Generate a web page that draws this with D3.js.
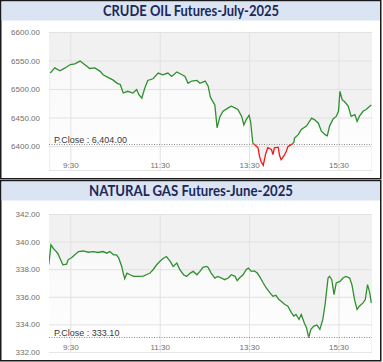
<!DOCTYPE html>
<html>
<head>
<meta charset="utf-8">
<script src="https://cdn.jsdelivr.net/npm/d3@7"></script>
<style>
  body { margin: 0; background: #fff; }
  svg { display: block; }
</style>
</head>
<body>
<div id="chart"></div>
<script>
// time labels on the x axis (same for both panels)
const timeTicks = ["9:30", "11:30", "13:30", "15:30"];

// crude oil panel
const oilTicks = [6400, 6450, 6500, 6550, 6600];
const oilClose = 6404;
const oilTimes = ["9:03","9:09","9:16","9:23","9:30","9:36","9:43","9:50","9:56","10:03","10:10","10:14","10:21","10:27","10:33","10:37","10:41","10:47","10:54","10:59","11:02","11:06","11:10","11:14","11:21","11:28","11:34","11:41","11:46","11:53","12:00","12:04","12:08","12:13","12:20","12:24","12:31","12:35","12:38","12:40","12:44","12:47","12:51","12:55","13:02","13:06","13:11","13:15","13:20","13:23","13:26","13:30","13:32","13:35","13:38","13:42","13:44","13:46","13:49","13:52","13:55","14:00","14:02","14:04","14:09","14:11","14:13","14:17","14:20","14:22","14:27","14:30","14:31","14:36","14:40","14:47","14:54","14:58","15:03","15:07","15:12","15:15","15:18","15:23","15:27","15:30","15:32","15:35","15:38","15:43","15:47","15:52","15:55","15:58","16:03","16:07","16:14"];
const oilValues = [6528,6537,6532,6537,6543,6544,6549,6542,6536,6537,6531,6525,6520,6516,6510,6508,6493,6496,6493,6499,6490,6484,6502,6515,6518,6528,6525,6528,6522,6530,6525,6522,6510,6514,6515,6510,6514,6505,6486,6481,6472,6432,6452,6461,6467,6470,6467,6464,6452,6437,6446,6454,6443,6405,6402,6397,6382,6373,6366,6385,6397,6394,6385,6397,6398,6383,6376,6383,6391,6399,6403,6406,6414,6420,6429,6435,6449,6446,6440,6426,6420,6418,6435,6448,6452,6461,6496,6481,6478,6470,6452,6455,6443,6452,6461,6464,6472];

// natural gas panel
const gasTicks = [332, 334, 336, 338, 340, 342];
const gasClose = 333.10;
const gasTimes = ["9:01","9:04","9:07","9:09","9:13","9:16","9:20","9:25","9:27","9:32","9:36","9:41","9:47","9:54","10:01","10:07","10:14","10:19","10:23","10:28","10:32","10:35","10:39","10:41","10:43","10:46","10:50","10:55","11:01","11:08","11:12","11:17","11:21","11:26","11:30","11:35","11:39","11:44","11:48","11:53","11:57","12:02","12:06","12:11","12:15","12:20","12:24","12:28","12:33","12:35","12:39","12:44","12:48","12:53","12:57","13:02","13:06","13:11","13:14","13:17","13:22","13:26","13:29","13:33","13:37","13:41","13:44","13:49","13:53","13:58","14:02","14:06","14:10","14:13","14:18","14:22","14:27","14:30","14:33","14:37","14:40","14:44","14:47","14:50","14:53","14:57","15:01","15:05","15:09","15:12","15:16","15:18","15:21","15:24","15:27","15:32","15:36","15:40","15:45","15:48","15:52","15:55","15:58","16:03","16:06","16:09","16:12","16:14"];
const gasValues = [338.32,339.76,339.52,339.40,339.16,338.80,338.32,338.37,338.68,338.85,339.04,339.28,339.32,339.23,339.28,339.21,339.28,339.16,339.28,339.04,339.04,338.80,338.20,337.72,337.31,337.72,337.60,337.48,337.48,337.50,337.60,337.72,337.96,338.32,338.56,338.80,338.92,338.56,338.20,338.44,337.96,337.60,337.48,337.72,337.84,337.60,337.84,338.13,338.20,338.13,337.72,337.36,337.48,337.36,337.24,337.36,337.60,337.48,337.17,337.36,337.60,337.96,338.08,337.84,337.88,337.72,337.48,337.00,336.64,336.28,336.04,336.11,335.80,335.68,335.44,335.32,334.84,334.60,334.72,334.36,334.72,334.12,333.76,333.05,333.64,333.88,333.95,333.64,334.36,335.44,337.36,337.48,337.24,336.16,337.00,337.12,337.36,337.48,337.36,336.88,335.68,335.08,335.32,335.56,335.80,336.88,336.28,335.56];

var W = 383, H = 362;
var parseTime = d3.timeParse("%H:%M");

var svg = d3.select("#chart").append("svg").attr("width", W).attr("height", H);

// gradient for the area under the line
var defs = svg.append("defs");
var grad = defs.append("linearGradient").attr("id", "underFill")
  .attr("x1", 0).attr("y1", 0).attr("x2", 0).attr("y2", 1);
grad.append("stop").attr("offset", "0%").attr("stop-color", "#f8f8f8");
grad.append("stop").attr("offset", "100%").attr("stop-color", "#ffffff");

// shared time scale
var x = d3.scaleTime()
  .domain([parseTime("9:00"), parseTime("16:15")])
  .range([48, 372]);

function drawPanel(p) {
  var g = svg.append("g").attr("transform", "translate(0," + p.top + ")");
  var left = 49, right = 372;

  // panel frame + title bar
  g.append("rect").attr("x", 0.75).attr("y", 0.75)
    .attr("width", 380).attr("height", p.height)
    .attr("fill", "#fff").attr("stroke", "#1a1a1a").attr("stroke-width", 1.5);
  g.append("rect").attr("x", 1.5).attr("y", 1.5)
    .attr("width", 378.5).attr("height", 19)
    .attr("fill", "#dbe4f3");
  g.append("text")
    .attr("x", 191).attr("y", 16)
    .attr("text-anchor", "middle")
    .attr("textLength", p.titleWidth)
    .attr("lengthAdjust", "spacingAndGlyphs")
    .style("font-family", "Lato, 'Open Sans', sans-serif")
    .style("font-weight", "bold")
    .style("font-size", "15px")
    .style("fill", "#1c2858")
    .text(p.title);

  var y = d3.scaleLinear().domain(p.yDomain).range([p.plotBottom, p.plotTop]);

  // plot background
  g.append("rect").attr("x", left).attr("y", p.plotTop)
    .attr("width", right - left).attr("height", p.plotBottom - p.plotTop)
    .attr("fill", "#f1f1f1");

  var data = p.times.map(function (t, i) {
    return { t: parseTime(t), v: p.values[i] };
  });

  var clipId = "plot" + p.top;
  defs.append("clipPath").attr("id", clipId).append("rect")
    .attr("x", left).attr("y", p.plotTop)
    .attr("width", right - left).attr("height", p.plotBottom - p.plotTop);

  // lighter area below the line
  var area = d3.area()
    .x(function (d) { return x(d.t); })
    .y0(p.plotBottom)
    .y1(function (d) { return y(d.v); });
  g.append("path").datum(data)
    .attr("clip-path", "url(#" + clipId + ")")
    .attr("d", area)
    .attr("fill", "url(#underFill)");

  // grid lines via axes
  var yAxis = g.append("g")
    .attr("transform", "translate(" + left + ",0)")
    .call(d3.axisLeft(y).tickValues(p.ticks).tickFormat(d3.format(".2f"))
      .tickSize(-(right - left)).tickPadding(9));
  yAxis.select(".domain").remove();
  yAxis.selectAll("line").attr("stroke", "#e2e2e2");
  yAxis.selectAll("text")
    .style("font-family", "'Liberation Sans', Arial, sans-serif")
    .style("font-size", "8px")
    .style("fill", "#6f6f6f");

  var xAxis = g.append("g")
    .attr("transform", "translate(0," + p.plotBottom + ")")
    .call(d3.axisBottom(x).tickValues(timeTicks.map(parseTime))
      .tickFormat(d3.timeFormat("%-H:%M"))
      .tickSize(-(p.plotBottom - p.plotTop)).tickPadding(-8));
  xAxis.select(".domain").remove();
  xAxis.selectAll("line").attr("stroke", "#e2e2e2");
  xAxis.selectAll("text")
    .style("font-family", "'Liberation Sans', Arial, sans-serif")
    .style("font-size", "8px")
    .style("fill", "#6f6f6f");

  // bottom edge of plot
  g.append("line").attr("x1", left).attr("x2", right)
    .attr("y1", p.plotBottom + 0.5).attr("y2", p.plotBottom + 0.5)
    .attr("stroke", "#e6e6e6");

  // previous close dotted line + label
  var yc = Math.round(y(p.close)) + 0.5;
  g.append("line").attr("x1", left).attr("x2", right)
    .attr("y1", yc).attr("y2", yc)
    .attr("stroke", "#8a8a8a").attr("stroke-dasharray", "1,1.5");
  g.append("text")
    .attr("x", left + 5).attr("y", yc - 1.5)
    .style("font-family", "'Liberation Sans', Arial, sans-serif")
    .style("font-size", "9px")
    .style("fill", "#3a3a3a")
    .text("P.Close : " + p.closeFormat(p.close));

  // green above close, red below close
  var line = d3.line()
    .x(function (d) { return x(d.t); })
    .y(function (d) { return y(d.v); });

  var upId = "up" + p.top, downId = "down" + p.top;
  defs.append("clipPath").attr("id", upId).append("rect")
    .attr("x", left).attr("y", p.plotTop)
    .attr("width", right - left).attr("height", y(p.close) - p.plotTop);
  defs.append("clipPath").attr("id", downId).append("rect")
    .attr("x", left).attr("y", y(p.close))
    .attr("width", right - left).attr("height", p.plotBottom - y(p.close));

  g.append("path").datum(data)
    .attr("clip-path", "url(#" + upId + ")")
    .attr("d", line)
    .attr("fill", "none")
    .attr("stroke", "#2f8f2f")
    .attr("stroke-width", 1.3);
  g.append("path").datum(data)
    .attr("clip-path", "url(#" + downId + ")")
    .attr("d", line)
    .attr("fill", "none")
    .attr("stroke", "#f01818")
    .attr("stroke-width", 1.3);
}

drawPanel({
  top: 0, height: 178,
  title: "CRUDE OIL Futures-July-2025", titleWidth: 176,
  plotTop: 32, plotBottom: 170,
  yDomain: [6358, 6600], ticks: oilTicks,
  times: oilTimes, values: oilValues,
  close: oilClose, closeFormat: d3.format(",.2f")
});

drawPanel({
  top: 180, height: 180,
  title: "NATURAL GAS Futures-June-2025", titleWidth: 204,
  plotTop: 34, plotBottom: 172,
  yDomain: [332, 342], ticks: gasTicks,
  times: gasTimes, values: gasValues,
  close: gasClose, closeFormat: d3.format(".2f")
});
</script>
</body>
</html>
